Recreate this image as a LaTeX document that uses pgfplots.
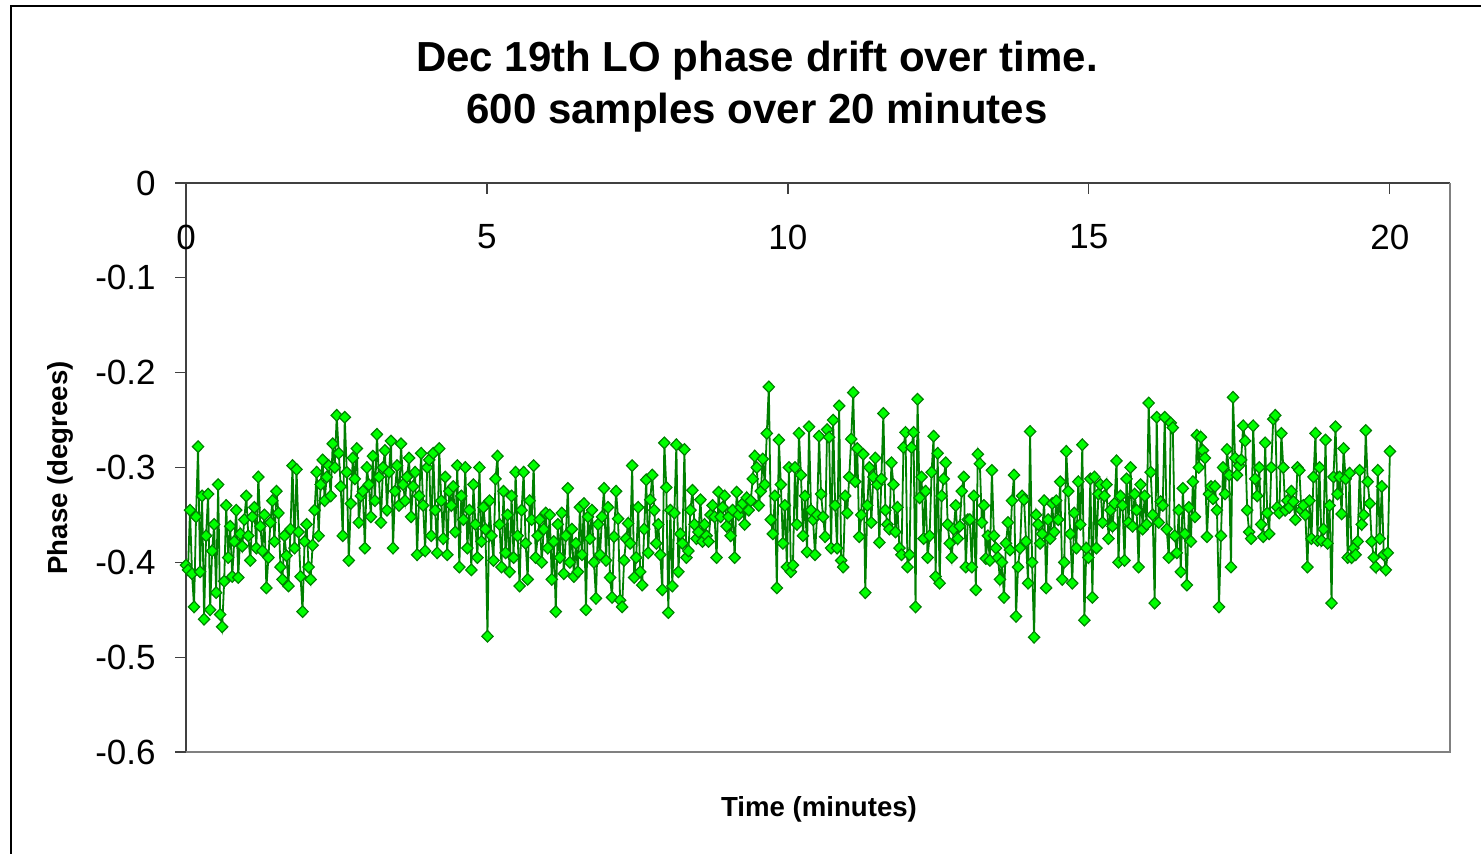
\documentclass[border=0pt]{standalone}
\usepackage{fontspec}
\setmainfont{Liberation Sans}
\usepackage{pgfplots}
\usepackage{pgfplotstable}
\pgfplotsset{compat=1.18}
\definecolor{linegreen}{RGB}{0,128,0}
\definecolor{markgreen}{RGB}{0,255,0}
\definecolor{axisdark}{RGB}{64,64,64}

% 600 samples, one every 2 s (x is computed from the row index)
\pgfplotstableread[header=false,row sep=\\]{
-0.403\\ -0.408\\ -0.345\\ -0.412\\ -0.447\\ -0.352\\ -0.278\\ -0.410\\ -0.330\\ -0.460\\ -0.372\\ -0.328\\ -0.450\\ -0.388\\ -0.360\\ -0.432\\ -0.318\\ -0.455\\ -0.468\\ -0.420\\ -0.340\\ -0.395\\ -0.362\\ -0.415\\ -0.378\\ -0.345\\ -0.416\\ -0.370\\ -0.383\\ -0.355\\
-0.330\\ -0.372\\ -0.398\\ -0.352\\ -0.342\\ -0.385\\ -0.310\\ -0.362\\ -0.388\\ -0.350\\ -0.427\\ -0.395\\ -0.358\\ -0.335\\ -0.378\\ -0.325\\ -0.348\\ -0.405\\ -0.418\\ -0.372\\ -0.393\\ -0.425\\ -0.365\\ -0.298\\ -0.385\\ -0.302\\ -0.368\\ -0.415\\ -0.452\\ -0.378\\
-0.360\\ -0.405\\ -0.418\\ -0.382\\ -0.345\\ -0.305\\ -0.372\\ -0.318\\ -0.292\\ -0.335\\ -0.310\\ -0.298\\ -0.330\\ -0.275\\ -0.300\\ -0.245\\ -0.285\\ -0.320\\ -0.372\\ -0.247\\ -0.305\\ -0.398\\ -0.338\\ -0.290\\ -0.312\\ -0.280\\ -0.358\\ -0.330\\ -0.325\\ -0.385\\
-0.300\\ -0.318\\ -0.352\\ -0.288\\ -0.335\\ -0.265\\ -0.310\\ -0.358\\ -0.300\\ -0.282\\ -0.345\\ -0.305\\ -0.272\\ -0.385\\ -0.325\\ -0.298\\ -0.340\\ -0.275\\ -0.318\\ -0.335\\ -0.310\\ -0.290\\ -0.352\\ -0.320\\ -0.305\\ -0.392\\ -0.330\\ -0.285\\ -0.340\\ -0.388\\
-0.300\\ -0.292\\ -0.372\\ -0.285\\ -0.345\\ -0.390\\ -0.280\\ -0.335\\ -0.375\\ -0.310\\ -0.392\\ -0.325\\ -0.340\\ -0.320\\ -0.368\\ -0.298\\ -0.405\\ -0.330\\ -0.355\\ -0.300\\ -0.385\\ -0.345\\ -0.408\\ -0.318\\ -0.360\\ -0.395\\ -0.300\\ -0.378\\ -0.342\\ -0.365\\
-0.478\\ -0.335\\ -0.372\\ -0.398\\ -0.312\\ -0.288\\ -0.360\\ -0.405\\ -0.325\\ -0.390\\ -0.350\\ -0.410\\ -0.330\\ -0.395\\ -0.305\\ -0.372\\ -0.425\\ -0.345\\ -0.305\\ -0.380\\ -0.418\\ -0.335\\ -0.355\\ -0.298\\ -0.395\\ -0.372\\ -0.355\\ -0.400\\ -0.365\\ -0.348\\
-0.385\\ -0.350\\ -0.418\\ -0.378\\ -0.452\\ -0.360\\ -0.395\\ -0.348\\ -0.412\\ -0.372\\ -0.322\\ -0.400\\ -0.365\\ -0.415\\ -0.380\\ -0.410\\ -0.342\\ -0.392\\ -0.338\\ -0.450\\ -0.352\\ -0.375\\ -0.345\\ -0.400\\ -0.438\\ -0.360\\ -0.392\\ -0.352\\ -0.322\\ -0.398\\
-0.342\\ -0.416\\ -0.437\\ -0.373\\ -0.325\\ -0.354\\ -0.440\\ -0.447\\ -0.398\\ -0.375\\ -0.359\\ -0.380\\ -0.298\\ -0.416\\ -0.395\\ -0.342\\ -0.410\\ -0.424\\ -0.365\\ -0.313\\ -0.390\\ -0.334\\ -0.308\\ -0.345\\ -0.380\\ -0.360\\ -0.392\\ -0.429\\ -0.274\\ -0.321\\
-0.453\\ -0.345\\ -0.425\\ -0.348\\ -0.276\\ -0.410\\ -0.370\\ -0.380\\ -0.281\\ -0.395\\ -0.388\\ -0.345\\ -0.324\\ -0.360\\ -0.375\\ -0.368\\ -0.334\\ -0.378\\ -0.360\\ -0.372\\ -0.378\\ -0.350\\ -0.340\\ -0.352\\ -0.395\\ -0.326\\ -0.352\\ -0.342\\ -0.330\\ -0.362\\
-0.352\\ -0.372\\ -0.345\\ -0.395\\ -0.326\\ -0.350\\ -0.342\\ -0.338\\ -0.360\\ -0.332\\ -0.345\\ -0.335\\ -0.312\\ -0.288\\ -0.300\\ -0.340\\ -0.325\\ -0.291\\ -0.318\\ -0.264\\ -0.215\\ -0.355\\ -0.370\\ -0.330\\ -0.427\\ -0.271\\ -0.318\\ -0.380\\ -0.340\\ -0.405\\
-0.300\\ -0.410\\ -0.403\\ -0.300\\ -0.360\\ -0.264\\ -0.308\\ -0.372\\ -0.330\\ -0.389\\ -0.257\\ -0.345\\ -0.355\\ -0.392\\ -0.350\\ -0.267\\ -0.328\\ -0.352\\ -0.373\\ -0.260\\ -0.268\\ -0.385\\ -0.250\\ -0.340\\ -0.385\\ -0.235\\ -0.398\\ -0.405\\ -0.330\\ -0.348\\
-0.310\\ -0.270\\ -0.221\\ -0.315\\ -0.280\\ -0.373\\ -0.350\\ -0.286\\ -0.432\\ -0.340\\ -0.300\\ -0.358\\ -0.310\\ -0.290\\ -0.318\\ -0.379\\ -0.312\\ -0.243\\ -0.345\\ -0.360\\ -0.365\\ -0.295\\ -0.318\\ -0.368\\ -0.342\\ -0.385\\ -0.392\\ -0.279\\ -0.263\\ -0.405\\
-0.392\\ -0.279\\ -0.263\\ -0.447\\ -0.228\\ -0.332\\ -0.310\\ -0.375\\ -0.325\\ -0.395\\ -0.372\\ -0.305\\ -0.267\\ -0.415\\ -0.285\\ -0.422\\ -0.330\\ -0.312\\ -0.295\\ -0.360\\ -0.380\\ -0.395\\ -0.365\\ -0.340\\ -0.375\\ -0.362\\ -0.325\\ -0.310\\ -0.405\\ -0.355\\
-0.355\\ -0.405\\ -0.330\\ -0.429\\ -0.286\\ -0.296\\ -0.358\\ -0.340\\ -0.396\\ -0.372\\ -0.398\\ -0.303\\ -0.372\\ -0.385\\ -0.395\\ -0.418\\ -0.400\\ -0.437\\ -0.380\\ -0.358\\ -0.387\\ -0.335\\ -0.308\\ -0.457\\ -0.405\\ -0.385\\ -0.330\\ -0.334\\ -0.378\\ -0.422\\
-0.262\\ -0.400\\ -0.479\\ -0.350\\ -0.360\\ -0.380\\ -0.370\\ -0.335\\ -0.427\\ -0.355\\ -0.375\\ -0.338\\ -0.368\\ -0.335\\ -0.355\\ -0.315\\ -0.418\\ -0.400\\ -0.283\\ -0.325\\ -0.370\\ -0.422\\ -0.348\\ -0.385\\ -0.315\\ -0.360\\ -0.276\\ -0.461\\ -0.385\\ -0.395\\
-0.312\\ -0.437\\ -0.310\\ -0.385\\ -0.328\\ -0.318\\ -0.358\\ -0.330\\ -0.318\\ -0.375\\ -0.345\\ -0.362\\ -0.338\\ -0.293\\ -0.400\\ -0.330\\ -0.340\\ -0.398\\ -0.312\\ -0.358\\ -0.300\\ -0.362\\ -0.328\\ -0.345\\ -0.405\\ -0.318\\ -0.365\\ -0.330\\ -0.360\\ -0.232\\
-0.305\\ -0.350\\ -0.443\\ -0.247\\ -0.358\\ -0.336\\ -0.340\\ -0.247\\ -0.365\\ -0.395\\ -0.253\\ -0.258\\ -0.372\\ -0.390\\ -0.345\\ -0.410\\ -0.322\\ -0.370\\ -0.424\\ -0.342\\ -0.378\\ -0.315\\ -0.352\\ -0.266\\ -0.300\\ -0.268\\ -0.282\\ -0.290\\ -0.373\\ -0.328\\
-0.320\\ -0.333\\ -0.320\\ -0.345\\ -0.447\\ -0.372\\ -0.300\\ -0.328\\ -0.281\\ -0.308\\ -0.405\\ -0.226\\ -0.290\\ -0.308\\ -0.298\\ -0.292\\ -0.256\\ -0.272\\ -0.345\\ -0.368\\ -0.375\\ -0.256\\ -0.312\\ -0.330\\ -0.300\\ -0.360\\ -0.373\\ -0.274\\ -0.348\\ -0.370\\
-0.300\\ -0.249\\ -0.245\\ -0.342\\ -0.348\\ -0.264\\ -0.300\\ -0.345\\ -0.335\\ -0.342\\ -0.325\\ -0.336\\ -0.355\\ -0.300\\ -0.303\\ -0.345\\ -0.340\\ -0.350\\ -0.405\\ -0.335\\ -0.375\\ -0.310\\ -0.264\\ -0.377\\ -0.300\\ -0.377\\ -0.365\\ -0.271\\ -0.380\\ -0.340\\
-0.443\\ -0.310\\ -0.257\\ -0.328\\ -0.310\\ -0.349\\ -0.280\\ -0.312\\ -0.395\\ -0.306\\ -0.395\\ -0.385\\ -0.392\\ -0.378\\ -0.303\\ -0.360\\ -0.350\\ -0.261\\ -0.315\\ -0.338\\ -0.378\\ -0.395\\ -0.405\\ -0.303\\ -0.375\\ -0.320\\ -0.392\\ -0.408\\ -0.390\\ -0.283\\
}\phase

\begin{document}
\begin{tikzpicture}[x=0.5pt,y=0.5pt]
  \useasboundingbox (0,0) rectangle (1481,854);
  % chart area frame (right and bottom edges lie outside the picture)
  \draw[line width=1.2pt] (11,-20) -- (11,848) -- (1500,848);
  \node[anchor=base,font=\bfseries\fontsize{21}{25}\selectfont] at (757,782) {Dec 19th LO phase drift over time.};
  \node[anchor=base,font=\bfseries\fontsize{21}{25}\selectfont] at (757,730) {600 samples over 20 minutes};
  \node[rotate=90,font=\bfseries\fontsize{13.8}{16}\selectfont] at (60,386) {Phase (degrees)};
  \node[anchor=base,font=\bfseries\fontsize{13.8}{16}\selectfont] at (819,37) {Time (minutes)};
  \begin{axis}[
      at={(93pt,51pt)}, anchor=south west,
      scale only axis,
      width=632pt, height=284.5pt,
      xmin=0, xmax=21, ymin=-0.6, ymax=0,
      axis x line*=top, axis y line*=left,
      axis line style={axisdark, line width=0.8pt},
      xtick={0,5,10,15,20}, xticklabels={0,5,10,15,20},
      ytick={-0.6,-0.5,-0.4,-0.3,-0.2,-0.1,0},
      yticklabels={-0.6,-0.5,-0.4,-0.3,-0.2,-0.1,0},
      xtick align=inside, ytick align=outside,
      major tick length=5.5pt,
      tick style={axisdark, line width=0.6pt},
      ticklabel style={font=\fontsize{17.5}{20}\selectfont},
      xticklabel style={anchor=center, inner sep=0pt, yshift=-27pt},
      yticklabel style={anchor=east, inner sep=0pt, xshift=-9.5pt},
      clip=false,
    ]
    \draw[gray, line width=1pt] (rel axis cs:0,0) -- (rel axis cs:1,0) -- (rel axis cs:1,1);
    \addplot[linegreen, line width=0.9pt, mark=diamond*, mark size=2.9pt,
      mark options={fill=markgreen, draw=linegreen, line width=0.6pt, xscale=1.3}]
      table[x expr=\coordindex*20/599, y index=0] {\phase};
  \end{axis}
\end{tikzpicture}
\end{document}
